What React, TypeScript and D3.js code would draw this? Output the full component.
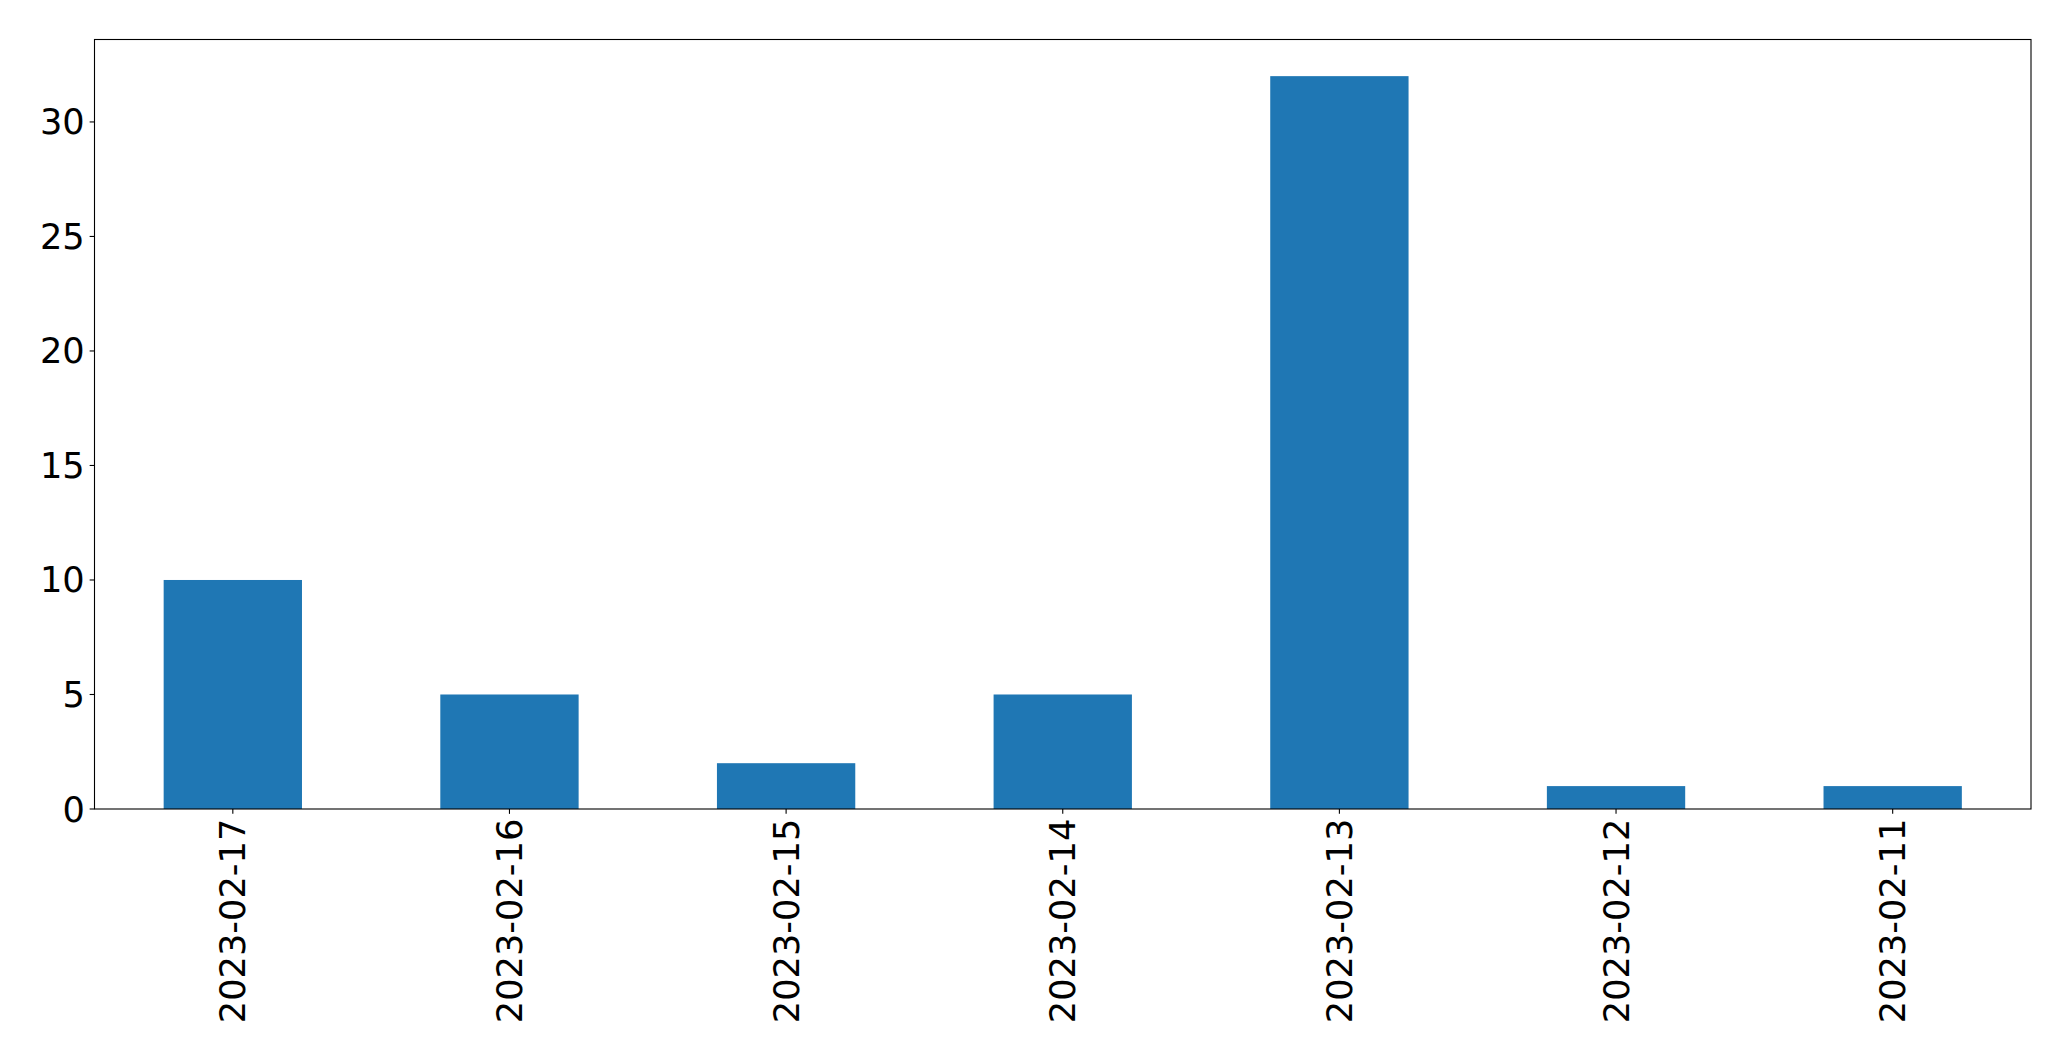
import React from "react";
import * as d3 from "d3";

const categories = ["2023-02-17", "2023-02-16", "2023-02-15", "2023-02-14", "2023-02-13", "2023-02-12", "2023-02-11"];
const values = [10, 5, 2, 5, 32, 1, 1];
const yTicks = [0, 5, 10, 15, 20, 25, 30];

const W = 2071;
const H = 1061;
const M = { left: 94.5, right: 2031, top: 39.5, bottom: 809 };
const FONT = 35.2;

export default function App() {
  const x = d3.scaleBand<string>().domain(categories).range([M.left, M.right]).paddingInner(0.5).paddingOuter(0.25);
  const yMax = d3.max(values)! * 1.05;
  const y = d3.scaleLinear().domain([0, yMax]).range([M.bottom, M.top]);
  const tick = 4.86;
  return (
    <svg width={W} height={H} style={{ position: "absolute", left: 0, top: 0, background: "#fff" }}
      fontFamily="DejaVu Sans" fontSize={FONT}>
      <rect x={0} y={0} width={W} height={H} fill="#fff" />
      {categories.map((c, i) => (
        <rect key={c} x={x(c)} y={y(values[i])} width={x.bandwidth()} height={y(0) - y(values[i])} fill="#1f77b4" />
      ))}
      <rect x={M.left} y={M.top} width={M.right - M.left} height={M.bottom - M.top} fill="none" stroke="#000" strokeWidth={1.1} />
      {yTicks.map((t) => (
        <g key={t}>
          <line x1={M.left - tick} x2={M.left} y1={y(t)} y2={y(t)} stroke="#000" strokeWidth={1.1} />
          <text x={M.left - tick - 4.86} y={y(t)} textAnchor="end" dominantBaseline="central" fill="#000">{t}</text>
        </g>
      ))}
      {categories.map((c) => {
        const cx = x(c)! + x.bandwidth() / 2;
        const ty = M.bottom + tick + 4.86;
        return (
          <g key={c}>
            <line x1={cx} x2={cx} y1={M.bottom} y2={M.bottom + tick} stroke="#000" strokeWidth={1.1} />
            <text transform={`translate(${cx},${ty}) rotate(-90)`} textAnchor="end" dominantBaseline="central" fill="#000">{c}</text>
          </g>
        );
      })}
    </svg>
  );
}
